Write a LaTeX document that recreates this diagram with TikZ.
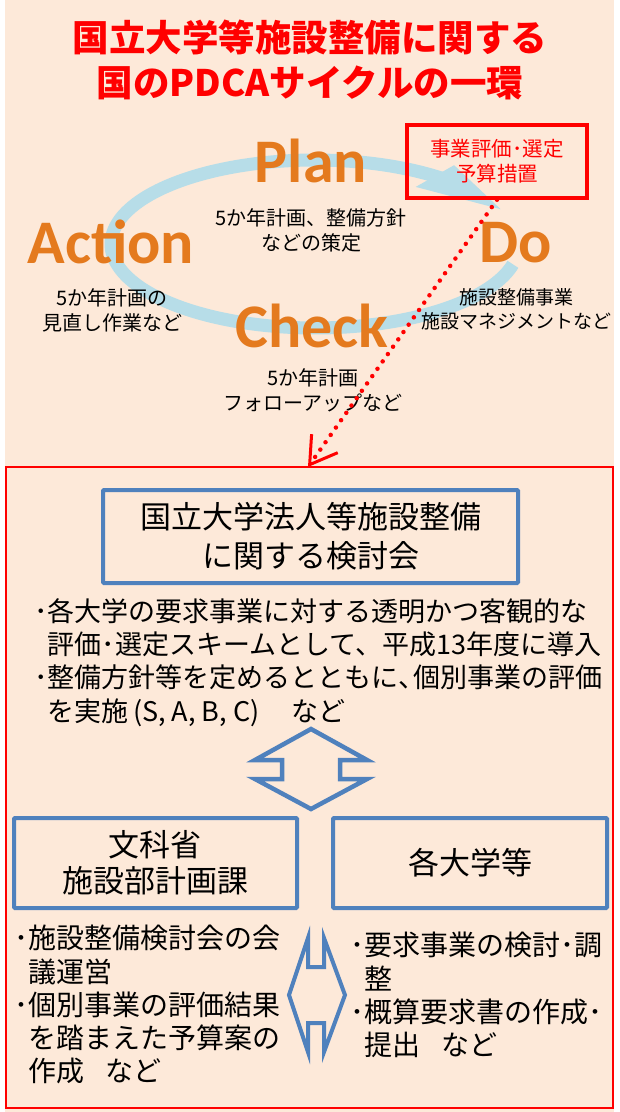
\documentclass[tikz,border=0pt]{standalone}
\usepackage{fontspec}
\setmainfont{Noto Sans CJK JP}
\newfontfamily\calfont{Carlito}
\usetikzlibrary{arrows.meta}
\definecolor{peach}{HTML}{FDE9D9}
\definecolor{ringblue}{HTML}{B7DDE8}
\definecolor{boxblue}{HTML}{4F81BD}
\definecolor{pdcaorange}{HTML}{E47A1E}
\newcommand{\halfcomma}{\makebox[0.55em][l]{、}}
\begin{document}
\begin{tikzpicture}[x=1pt,y=-1pt,
  titletext/.style={text=red, font=\fontsize{36.5}{45}\selectfont\bfseries, align=center, inner sep=0pt},
  pdca/.style={text=pdcaorange, font=\calfont\bfseries\fontsize{62}{62}\selectfont, inner sep=0pt, anchor=base},
  lbl/.style={font=\fontsize{20}{25}\selectfont, align=center, inner sep=0pt},
  bluebox/.style={draw=boxblue, line width=4pt, fill=peach, rounded corners=1pt, inner sep=0pt, align=center},
  body/.style={font=\fontsize{27}{33.3}\selectfont, align=left, inner sep=0pt, anchor=north west},
  dblarrow/.style={draw=boxblue, line width=4.5pt, fill=peach, line join=miter},
]
\useasboundingbox (0,0) rectangle (619,1112);
\fill[white] (0,0) rectangle (619,1112);
\fill[peach] (5,0) rectangle (614,1112);

% title
\node[titletext] (title) at (310,59.5) {国立大学等施設整備に関する\\国のPDCAサイクルの一環};

% PDCA ring
\draw[ringblue, line width=13pt] plot[domain=14:309, samples=150] ({315+204*cos(\x)},{244+84*sin(\x)});
\fill[ringblue] ({315+0.84*204*cos(306)},{244+0.84*84*sin(306)}) -- ({315+204*cos(335.5)},{244+84*sin(335.5)}) -- ({315+1.16*204*cos(306)},{244+1.16*84*sin(306)}) -- cycle;

\node[pdca] (plan) at (311,182) {Plan};
\node[pdca] (action) at (111,263) {Action};
\node[pdca] (do) at (516,262) {Do};
\node[pdca] (check) at (312,347) {Check};

\node[lbl] (plantxt) at (311,230.5) {5か年計画、整備方針\\などの策定};
\node[lbl] (actiontxt) at (112,310) {5か年計画の\\見直し作業など};
\node[lbl, font=\fontsize{19}{24}\selectfont] (dotxt) at (516,309) {施設整備事業\\施設マネジメントなど};
\node[lbl] (checktxt) at (313,390) {5か年計画\\フォローアップなど};

% selection box (no fill: the ring shows through)
\node[draw=red, line width=3.5pt, minimum width=180pt, minimum height=73pt, inner sep=0pt,
      text=red, font=\fontsize{20.5}{25}\selectfont, align=center] (sel) at (497,161.5) {事業評価･選定\\予算措置};

% frame
\node[draw=red, line width=2.5pt, minimum width=607pt, minimum height=641pt, inner sep=0pt] (frame) at (309.5,787.5) {};
\coordinate (tgt) at (308,467);
\draw[red, line width=4.5pt, dash pattern=on 0pt off 9pt, line cap=round,
      -{Straight Barb[length=26pt,width=32pt,line width=3pt]}] (sel.south) -- (tgt);

% committee box
\node[bluebox, minimum width=415pt, minimum height=93pt, font=\fontsize{31}{39}\selectfont] (kentou) at (310.5,536.5) {国立大学法人等施設整備\\に関する検討会};

\node[body] (desc) at (34,598) {･各大学の要求事業に対する透明かつ客観的な\\\hphantom{･}評価･選定スキームとして、平成13年度に導入\\･整備方針等を定めるとともに\halfcomma 個別事業の評価\\\hphantom{･}を実施\,(S, A, B, C)\hspace{1.2em}など};

% upper double arrow
\draw[dblarrow] (311,729) -- (255,760) -- (282,760) -- (282,779) -- (255,779) -- (311,809) -- (367,779) -- (340,779) -- (340,760) -- (367,760) -- cycle;

% two boxes
\node[bluebox, minimum width=283pt, minimum height=90pt, font=\fontsize{31}{36}\selectfont] (monka) at (155.5,863) {文科省\\施設部計画課};
\node[bluebox, minimum width=274pt, minimum height=90pt, font=\fontsize{31}{36}\selectfont] (univ) at (470,863) {各大学等};

% lower texts
\node[body, font=\fontsize{28}{33.3}\selectfont] (lefttxt) at (14,925) {･施設整備検討会の会\\\hphantom{･}議運営\\･個別事業の評価結果\\\hphantom{･}を踏まえた予算案の\\\hphantom{･}作成\hspace{0.75em}など};
\node[body, font=\fontsize{28}{33.3}\selectfont] (righttxt) at (350,932) {･要求事業の検討･調\\\hphantom{･}整\\･概算要求書の作成･\\\hphantom{･}提出\hspace{0.75em}など};

% vertical double arrow
\draw[dblarrow, line width=4pt] (289,995) -- (308,938) -- (308,967) -- (324,967) -- (324,938) -- (345,995) -- (324,1052) -- (324,1023) -- (308,1023) -- (308,1052) -- cycle;
\end{tikzpicture}
\end{document}
